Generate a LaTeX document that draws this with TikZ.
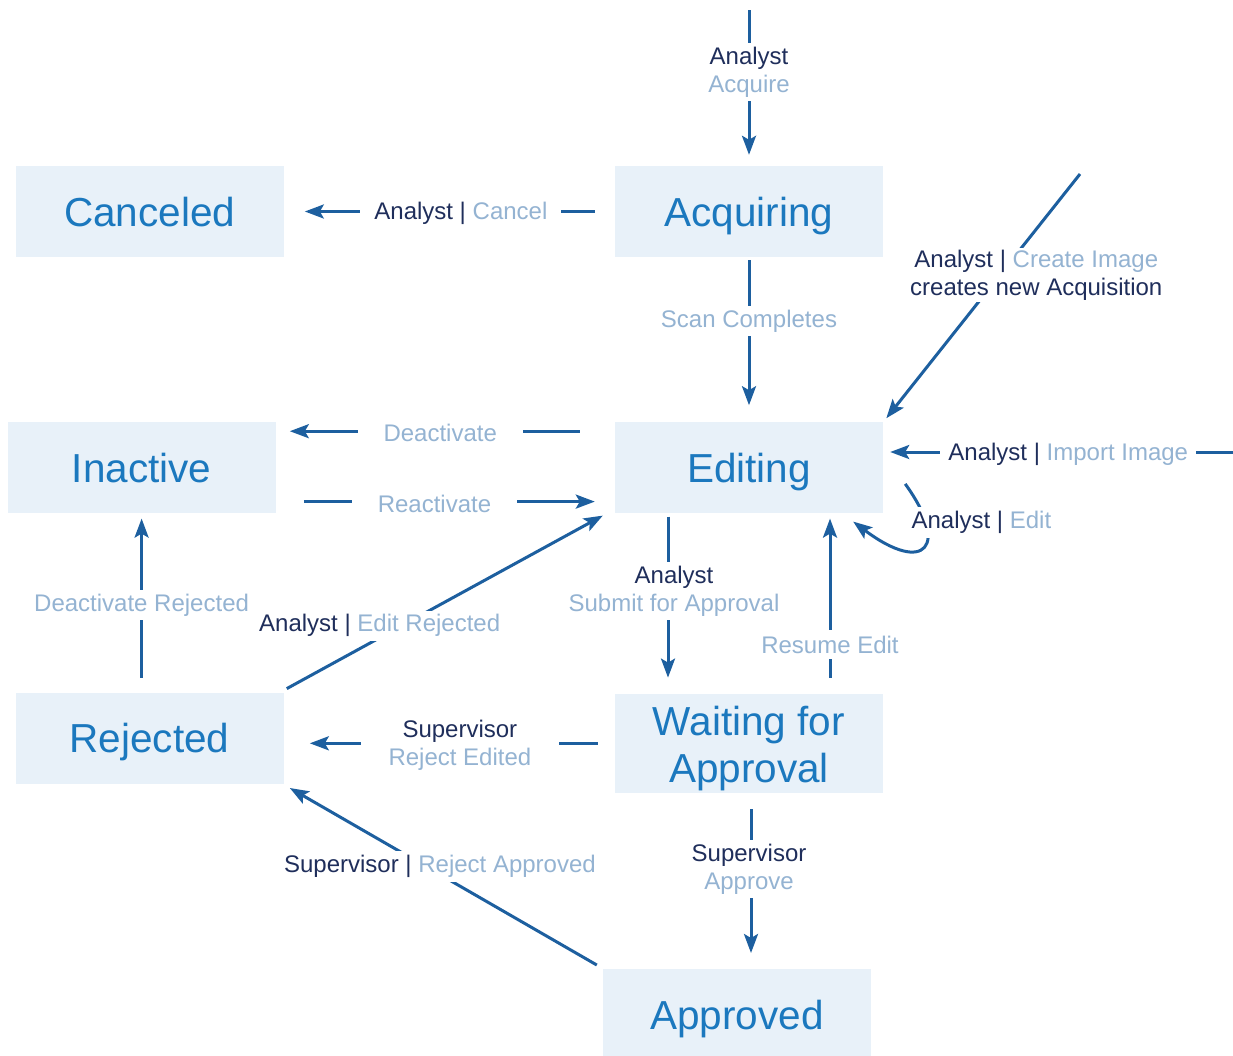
\documentclass[tikz,border=0pt]{standalone}
\usepackage{fontspec}
\setmainfont{Liberation Sans}
\usetikzlibrary{positioning, arrows.meta, calc}

\definecolor{boxfill}{HTML}{E8F1F9}
\definecolor{statetext}{HTML}{1B78BE}
\definecolor{linecol}{HTML}{1D5F9F}
\definecolor{actorcol}{HTML}{1F2E5B}
\definecolor{actioncol}{HTML}{94B3D2}

\newcommand{\actor}[1]{\textcolor{actorcol}{#1}}

\begin{document}
\begin{tikzpicture}[x=1pt, y=-1pt,
        status/.style={fill=boxfill, text=statetext, minimum width=268pt, minimum height=91pt, inner sep=0pt, align=center, text height=29pt, text depth=0pt, font=\fontsize{40.5}{47}\selectfont},
        lbl/.style={fill=white, text=actioncol, align=center, inner xsep=14pt, inner ysep=4pt, yshift=-2pt, font=\fontsize{24}{28}\selectfont},
        trans/.style={draw=linecol, line width=3pt},
        >={Stealth[length=19pt, width=14pt, inset=4pt]}]

        \useasboundingbox (0,0) rectangle (1233,1055);

        % Estados
        \node (acquiring) [status] at (749,211.5) {Acquiring};
        \node (canceled) [status, left=331pt of acquiring] {Canceled};
        \node (editing) [status, below=165pt of acquiring] {Editing};
        \node (inactive) [status, left=339pt of editing] {Inactive};
        \node (waiting) [status, below=180pt of editing, minimum height=99pt, text height=78pt] {Waiting for\\Approval};
        \node (rejected) [status, left=331pt of waiting, yshift=5pt] {Rejected};
        \node (approved) [status, below=176pt of waiting, xshift=-12pt] {Approved};

        % Entradas de fora
        \coordinate (acqin) at (749,10);
        \coordinate (createin) at (1080,174);
        \coordinate (importin) at (1233,452);

        % Transicoes
        \draw[trans, ->, shorten >=11pt] (acqin) -- node[lbl, pos=0.385] {\actor{Analyst}\\Acquire} (acquiring.north);
        \draw[trans, ->, shorten <=20pt, shorten >=21pt] (acquiring.west) -- node[lbl, pos=0.465] {\actor{Analyst |} Cancel} (canceled.east);
        \draw[trans, ->, shorten <=3pt, shorten >=17pt] (acquiring.south) -- node[lbl, pos=0.376] {Scan Completes} (editing.north);
        \draw[trans, ->, shorten >=5pt] (createin) -- node[lbl, pos=0.4, xshift=35pt, inner ysep=2pt] {\actor{Analyst |} Create Image\\\actor{creates new Acquisition}} (editing.north east);
        \draw[trans, ->, shorten >=7pt] (importin) -- node[lbl, pos=0.471, inner xsep=8pt] {\actor{Analyst |} Import Image} (importin -| editing.east);
        \draw[trans, ->] ([shift={(22,16)}]editing.east) .. controls +(45,62) and +(72,54) .. ([shift={(-30,8)}]editing.south east) node[lbl, pos=0.3, xshift=54pt, yshift=9pt] {\actor{Analyst |} Edit};

        \draw[trans, ->, shorten <=35pt, shorten >=14pt] ([yshift=-9pt]editing.north west) -- node[lbl, pos=0.515, inner xsep=26pt] {Deactivate} ([yshift=-9pt]inactive.north east);
        \draw[trans, ->, shorten <=28pt, shorten >=20pt] ([yshift=12pt]inactive.south east) -- node[lbl, pos=0.468, inner xsep=26pt] {Reactivate} ([yshift=12pt]editing.south west);
        \draw[trans, ->] ([shift={(3,-4)}]rejected.north east) -- node[lbl, pos=0.294, yshift=14pt] {\actor{Analyst |} Edit Rejected} ([shift={(-12,2)}]editing.south west);
        \draw[trans, ->, shorten <=15pt, shorten >=5pt] (rejected.north -| inactive.south) -- node[lbl] {Deactivate Rejected} (inactive.south);

        % Aprovacao
        \draw[trans, ->, shorten <=3pt, shorten >=16pt] ([xshift=-81pt]editing.south) -- node[lbl, pos=0.42, xshift=6pt] {\actor{Analyst}\\Submit for Approval} ([xshift=-81pt]waiting.north);
        \draw[trans, ->, shorten <=16pt, shorten >=5pt] ([xshift=81pt]waiting.north) -- node[lbl, pos=0.283, inner ysep=6pt] {Resume Edit} ([xshift=81pt]editing.south);
        \draw[trans, ->, shorten <=17pt, shorten >=26pt] (waiting.west) -- node[lbl, pos=0.468, inner xsep=28pt] {\actor{Supervisor}\\Reject Edited} (waiting.west -| rejected.east);
        \draw[trans, ->, shorten <=16pt, shorten >=16pt] ([xshift=2pt]waiting.south) -- node[lbl, pos=0.42, xshift=-2pt] {\actor{Supervisor}\\Approve} ([xshift=14pt]approved.north);
        \draw[trans, ->] ([shift={(-6,-4)}]approved.north west) -- node[lbl, pos=0.511, yshift=10pt] {\actor{Supervisor |} Reject Approved} ([shift={(6,4)}]rejected.south east);

    \end{tikzpicture}
\end{document}
